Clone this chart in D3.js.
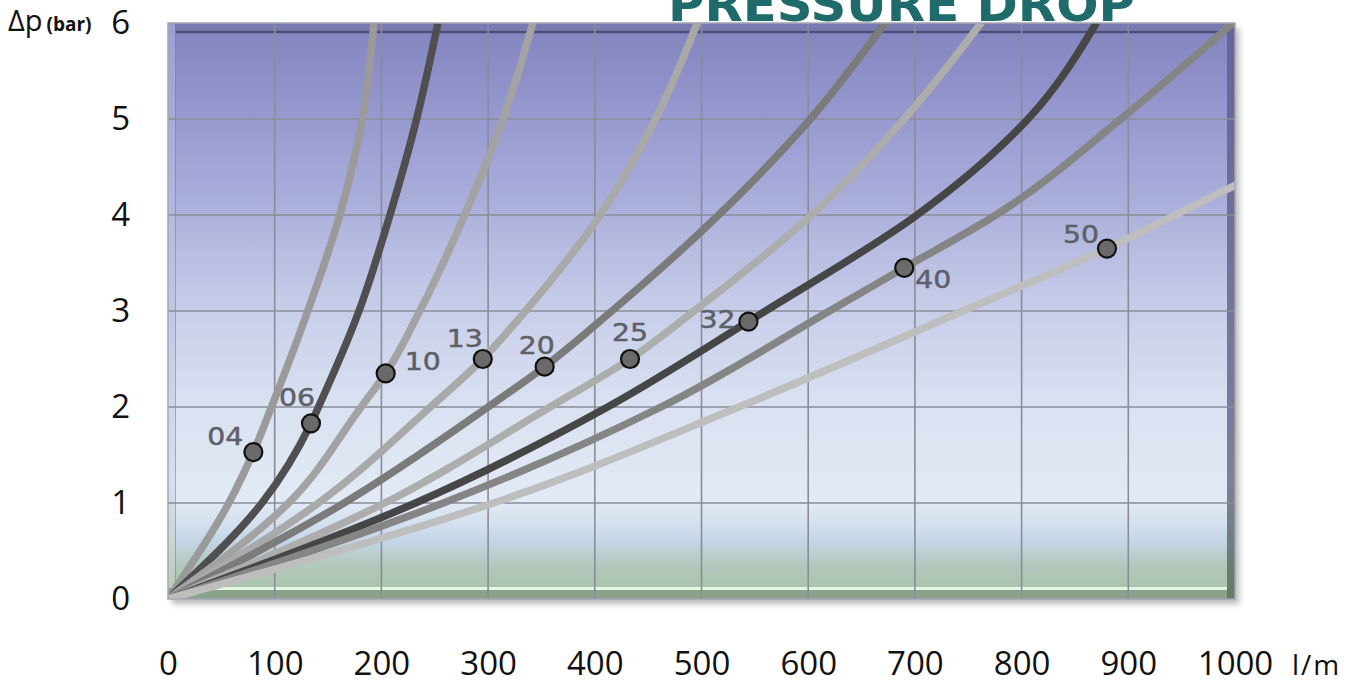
<!DOCTYPE html>
<html>
<head>
<meta charset="utf-8">
<script src="https://cdn.jsdelivr.net/npm/d3@7"></script>
<style>
  body { margin: 0; background: #fff; }
  svg { display: block; }
</style>
</head>
<body>
<div id="chart"></div>
<script>
// axis ticks
const flowTicks = [0, 100, 200, 300, 400, 500, 600, 700, 800, 900, 1000];
const dpTicks = [0, 1, 2, 3, 4, 5, 6];

// curve sizes (flow l/m, pressure drop bar)
const sizes = ["04", "06", "10", "13", "20", "25", "32", "40", "50"];
const q04 = [0, 57, 80, 97, 131, 161, 182, 193];
const dp04 = [0, 1, 1.53, 2, 3, 4, 5, 6];
const q06 = [0, 88, 134, 141, 179, 208, 233, 253];
const dp06 = [0, 1, 1.83, 2, 3, 4, 5, 6];
const q10 = [0, 113, 181, 204, 236, 278, 314, 342];
const dp10 = [0, 1, 2, 2.35, 3, 4, 5, 6];
const q13 = [0, 141, 246, 295, 335, 405, 457, 496];
const dp13 = [0, 1, 2, 2.5, 3, 4, 5, 6];
const q20 = [0, 165, 300, 353, 416, 516, 602, 672];
const dp20 = [0, 1, 2, 2.42, 3, 4, 5, 6];
const q25 = [0, 203, 358, 433, 493, 603, 690, 762];
const dp25 = [0, 1, 2, 2.5, 3, 4, 5, 6];
const q32 = [0, 232, 412, 544, 560, 702, 806, 870];
const dp32 = [0, 1, 2, 2.89, 3, 4, 5, 6];
const q40 = [0, 258, 462, 620, 690, 776, 893, 998];
const dp40 = [0, 1, 2, 3, 3.45, 4, 5, 6];
const q50 = [0, 305, 535, 745, 880, 944, 1000];
const dp50 = [0, 1, 2, 3, 3.65, 4, 4.31];

// rated points with size labels
const markerFlow = [80, 134, 204, 295, 353, 433, 544, 690, 880];
const markerDp = [1.53, 1.83, 2.35, 2.5, 2.42, 2.5, 2.89, 3.45, 3.65];

// styles
const lineColors = ["#9a9a9a", "#4f4f4f", "#a3a3a3", "#a9a9a9", "#7b7b7b", "#adadad", "#464646", "#858585", "#bebebe"];
// label placement relative to each marker [dx, dy]
const labelOffsets = [[-46, -7], [-32, -17], [19, -3], [-36, -12], [-26, -13], [-18, -18], [-49, 6], [11, 20], [-44, -6]];

const W = 1354, H = 684;
const plot = { left: 168, right: 1235, top: 23, bottom: 599 };

const seriesQ = [q04, q06, q10, q13, q20, q25, q32, q40, q50];
const seriesDp = [dp04, dp06, dp10, dp13, dp20, dp25, dp32, dp40, dp50];
const series = sizes.map((s, i) => ({
  size: s,
  color: lineColors[i],
  points: seriesQ[i].map((q, j) => ({ q: q, dp: seriesDp[i][j] }))
}));

const x = d3.scaleLinear().domain([0, 1000]).range([plot.left, plot.right]);
const y = d3.scaleLinear().domain([0, 6]).range([plot.bottom, plot.top]);

const svg = d3.select('#chart').append('svg')
  .attr('width', W)
  .attr('height', H);

const defs = svg.append('defs');

const bg = defs.append('linearGradient')
  .attr('id', 'bg')
  .attr('gradientUnits', 'userSpaceOnUse')
  .attr('x1', 0).attr('y1', plot.top).attr('x2', 0).attr('y2', plot.bottom);
[[0, '#8383be'], [0.17, '#989ad0'], [0.33, '#adb1dc'], [0.5, '#c8cee9'], [0.67, '#dae2f2'],
 [0.83, '#e2eaf5'], [0.87, '#d4e0ee'], [0.9, '#c3d5e6'], [0.94, '#b3c9bd'], [1, '#a5c1a5']]
  .forEach(d => bg.append('stop').attr('offset', d[0]).attr('stop-color', d[1]));

const side = defs.append('linearGradient')
  .attr('id', 'side')
  .attr('gradientUnits', 'userSpaceOnUse')
  .attr('x1', 0).attr('y1', plot.top).attr('x2', 0).attr('y2', plot.bottom);
side.append('stop').attr('offset', 0).attr('stop-color', '#64649a');
side.append('stop').attr('offset', 0.8).attr('stop-color', '#7c8098');
side.append('stop').attr('offset', 1).attr('stop-color', '#667a66');

const leftSide = defs.append('linearGradient')
  .attr('id', 'leftSide')
  .attr('gradientUnits', 'userSpaceOnUse')
  .attr('x1', 0).attr('y1', plot.top).attr('x2', 0).attr('y2', plot.bottom);
leftSide.append('stop').attr('offset', 0).attr('stop-color', '#9c9ed2');
leftSide.append('stop').attr('offset', 0.8).attr('stop-color', '#d6e0f0');
leftSide.append('stop').attr('offset', 1).attr('stop-color', '#b4ccb4');

const shadow = defs.append('filter').attr('id', 'shadow')
  .attr('x', '-5%').attr('y', '-5%').attr('width', '110%').attr('height', '115%');
shadow.append('feGaussianBlur').attr('stdDeviation', 3);

defs.append('clipPath').attr('id', 'clip')
  .append('rect')
  .attr('x', plot.left).attr('y', plot.top)
  .attr('width', plot.right - plot.left).attr('height', plot.bottom - plot.top);

// drop shadow
svg.append('rect')
  .attr('x', plot.left + 4).attr('y', plot.top + 5)
  .attr('width', plot.right - plot.left).attr('height', plot.bottom - plot.top)
  .attr('fill', '#7a7a7a')
  .attr('opacity', 0.55)
  .attr('filter', 'url(#shadow)');

// background
svg.append('rect')
  .attr('x', plot.left).attr('y', plot.top)
  .attr('width', plot.right - plot.left).attr('height', plot.bottom - plot.top)
  .attr('fill', 'url(#bg)');

// bevel strips
const bevel = svg.append('g');
bevel.append('rect')
  .attr('x', plot.left).attr('y', plot.top)
  .attr('width', plot.right - plot.left).attr('height', 8)
  .attr('fill', '#7b7bb3');
bevel.append('line')
  .attr('x1', plot.left + 7).attr('x2', plot.right - 8)
  .attr('y1', plot.top + 9).attr('y2', plot.top + 9)
  .attr('stroke', '#4f4f7c').attr('stroke-width', 2.5);
bevel.append('rect')
  .attr('x', plot.left).attr('y', plot.top)
  .attr('width', 7).attr('height', plot.bottom - plot.top)
  .attr('fill', 'url(#leftSide)');
bevel.append('line')
  .attr('x1', plot.left + 7.5).attr('x2', plot.left + 7.5)
  .attr('y1', plot.top + 8).attr('y2', plot.bottom - 10)
  .attr('stroke', '#7c7ea8').attr('stroke-width', 1).attr('opacity', 0.6);
bevel.append('rect')
  .attr('x', plot.left).attr('y', plot.bottom - 11)
  .attr('width', plot.right - plot.left).attr('height', 11)
  .attr('fill', '#8aa28a');
bevel.append('line')
  .attr('x1', plot.left + 7).attr('x2', plot.right - 8)
  .attr('y1', plot.bottom - 10.5).attr('y2', plot.bottom - 10.5)
  .attr('stroke', '#e4f6e4').attr('stroke-width', 3);
bevel.append('rect')
  .attr('x', plot.right - 8).attr('y', plot.top)
  .attr('width', 8).attr('height', plot.bottom - plot.top)
  .attr('fill', 'url(#side)');

// grid
const grid = svg.append('g').attr('stroke', '#8a8c98').attr('stroke-width', 1.6);
grid.selectAll('line.v')
  .data(flowTicks.slice(1, -1))
  .join('line')
  .attr('class', 'v')
  .attr('x1', d => x(d)).attr('x2', d => x(d))
  .attr('y1', plot.top).attr('y2', plot.bottom);
grid.selectAll('line.h')
  .data(dpTicks.slice(1, -1))
  .join('line')
  .attr('class', 'h')
  .attr('x1', plot.left).attr('x2', plot.right)
  .attr('y1', d => y(d)).attr('y2', d => y(d));

// curves (monotone in pressure, so steep tops stay smooth)
const line = d3.line()
  .x(d => x(d.q))
  .y(d => y(d.dp))
  .curve(d3.curveMonotoneY);

svg.append('g')
  .attr('clip-path', 'url(#clip)')
  .selectAll('path')
  .data(series)
  .join('path')
  .attr('d', d => line(d.points))
  .attr('fill', 'none')
  .attr('stroke', d => d.color)
  .attr('stroke-width', 7.5)
  .attr('stroke-linecap', 'round');

// frame outline
svg.append('rect')
  .attr('x', plot.left).attr('y', plot.top)
  .attr('width', plot.right - plot.left).attr('height', plot.bottom - plot.top)
  .attr('fill', 'none')
  .attr('stroke', '#a4a6b4')
  .attr('stroke-width', 1.5);

// markers and labels
const marks = svg.append('g');
marks.selectAll('circle')
  .data(sizes)
  .join('circle')
  .attr('cx', (d, i) => x(markerFlow[i]))
  .attr('cy', (d, i) => y(markerDp[i]))
  .attr('r', 9)
  .attr('fill', '#6a6a6a')
  .attr('stroke', '#111')
  .attr('stroke-width', 2.2);
marks.selectAll('text')
  .data(sizes)
  .join('text')
  .attr('x', (d, i) => x(markerFlow[i]) + labelOffsets[i][0])
  .attr('y', (d, i) => y(markerDp[i]) + labelOffsets[i][1])
  .attr('textLength', 36)
  .attr('lengthAdjust', 'spacingAndGlyphs')
  .attr('font-family', 'DejaVu Sans, sans-serif')
  .attr('font-size', 25)
  .attr('fill', '#5e6068')
  .attr('stroke', '#5e6068')
  .attr('stroke-width', 0.5)
  .text(d => d);

// axes
const xAxis = svg.append('g')
  .attr('transform', `translate(0,${plot.bottom})`)
  .call(d3.axisBottom(x).tickValues(flowTicks).tickSize(0).tickPadding(53).tickFormat(d3.format('d')));
const yAxis = svg.append('g')
  .attr('transform', `translate(${plot.left},0)`)
  .call(d3.axisLeft(y).tickValues(dpTicks).tickSize(0).tickPadding(38).tickFormat(d3.format('d')));
[xAxis, yAxis].forEach(a => {
  a.select('.domain').remove();
  a.selectAll('text')
    .attr('font-family', 'Open Sans, sans-serif')
    .attr('font-size', 33)
    .attr('fill', '#111');
});

svg.append('text')
  .attr('x', 1292).attr('y', 675)
  .attr('font-family', 'Open Sans, sans-serif')
  .attr('font-size', 28)
  .attr('letter-spacing', 2)
  .attr('fill', '#111')
  .text('l/m');

const dpLabel = svg.append('text')
  .attr('x', 8).attr('y', 31)
  .attr('font-family', 'Open Sans, sans-serif')
  .attr('fill', '#111');
dpLabel.append('tspan').attr('font-size', 29).text('Δp');
dpLabel.append('tspan').attr('font-size', 19).attr('font-weight', 'bold').attr('dx', 4).text('(bar)');

// title, cut off at the top edge
svg.append('text')
  .attr('x', 668).attr('y', 21)
  .attr('textLength', 467)
  .attr('lengthAdjust', 'spacingAndGlyphs')
  .attr('font-family', 'DejaVu Sans, sans-serif')
  .attr('font-weight', 'bold')
  .attr('font-size', 48)
  .attr('fill', '#1f6a6b')
  .text('PRESSURE DROP');
</script>
</body>
</html>
